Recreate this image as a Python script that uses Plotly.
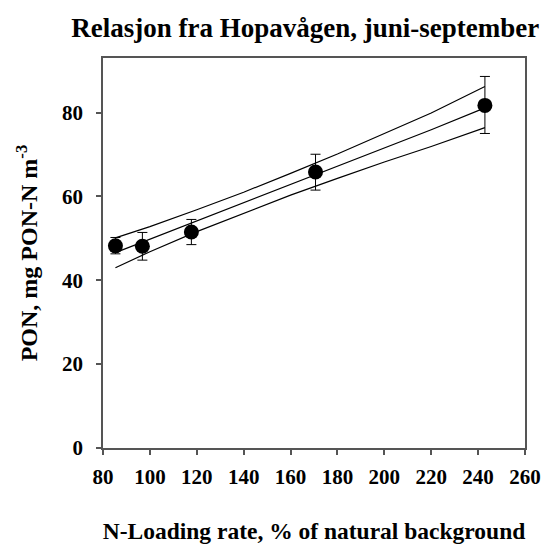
import plotly.graph_objects as go

# Observed data (N-loading rate vs PON)
load_x = [85.3, 96.8, 117.7, 170.65, 242.9]
pon_y = [48.2, 48.1, 51.5, 65.8, 81.7]
err_plus = [2.0, 3.3, 3.0, 4.25, 6.9]
err_minus = [1.9, 3.3, 3.0, 4.3, 6.7]

# Regression line and confidence band
band_x = [85.3, 100, 120, 140, 160, 180, 200, 220, 242.9]
fit_y = [46.6, 49.8, 54.2, 58.5, 62.9, 67.2, 71.6, 75.9, 81.1]
upper_y = [50.1, 52.8, 56.8, 61.0, 65.5, 70.1, 75.0, 79.9, 86.2]
lower_y = [43.0, 46.8, 51.6, 56.0, 60.3, 64.3, 68.2, 71.9, 76.4]

x_ticks = [80, 100, 120, 140, 160, 180, 200, 220, 240, 260]
y_ticks = [0, 20, 40, 60, 80]

FONT = "Liberation Serif"
AX = "#555555"

fig = go.Figure()
for yy in (upper_y, fit_y, lower_y):
    fig.add_trace(go.Scatter(x=band_x, y=yy, mode="lines",
                             line=dict(color="black", width=1.2),
                             showlegend=False, hoverinfo="skip"))
fig.add_trace(go.Scatter(
    x=load_x, y=pon_y, mode="markers",
    marker=dict(color="black", size=15),
    error_y=dict(type="data", symmetric=False, array=err_plus,
                 arrayminus=err_minus, color="black", thickness=1, width=5),
    showlegend=False))

fig.update_layout(
    template="none",
    width=544, height=544,
    margin=dict(l=103, r=19, t=58, b=96, autoexpand=False),
    plot_bgcolor="white", paper_bgcolor="white",
    font=dict(family=FONT, color="black", size=21, weight="bold"),
    title=dict(text="Relasjon fra Hopavågen, juni-september",
               font=dict(family=FONT, size=27, weight="bold", color="black"),
               x=0.561, xref="container", xanchor="center",
               y=1 - 28 / 544, yref="container", yanchor="middle"),
)
fig.update_xaxes(
    range=[80, 260], tickvals=x_ticks, ticks="outside", ticklen=5,
    tickwidth=1.5, tickcolor=AX, showline=True, linecolor=AX, linewidth=1.5,
    mirror=True, showgrid=False, zeroline=False, automargin=False,
    ticklabelstandoff=4,
    tickfont=dict(family=FONT, size=21, weight="bold", color="black"),
    title=dict(text="N-Loading rate, % of natural background",
               font=dict(family=FONT, size=23.5, weight="bold", color="black"),
               standoff=57),
)
fig.update_yaxes(
    range=[0, 93], tickvals=y_ticks, ticks="outside", ticklen=5,
    tickwidth=1.5, tickcolor=AX, showline=True, linecolor=AX, linewidth=1.5,
    mirror=True, showgrid=False, zeroline=False, ticklabelstandoff=9,
    automargin=False,
    tickfont=dict(family=FONT, size=21, weight="bold", color="black"),
    title=dict(text="PON, mg PON-N m<sup>-3</sup>",
               font=dict(family=FONT, size=24, weight="bold", color="black"),
               standoff=18),
)

fig.write_html("out.html",
               config={"displayModeBar": False},
               post_script="document.body.style.margin='0';"
                           "document.body.style.overflow='hidden';")
